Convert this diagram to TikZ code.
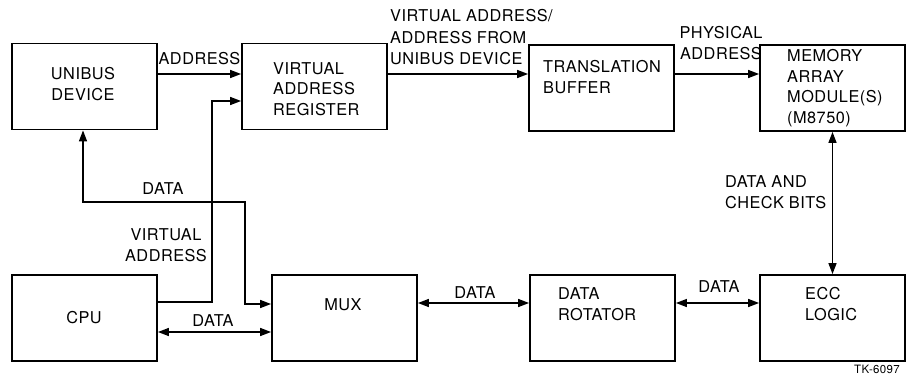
\documentclass[tikz,border=0pt]{standalone}
\usepackage{fontspec}
\setmainfont[LetterSpace=3]{TeX Gyre Heros}
\usepackage{tikz}
\usetikzlibrary{arrows.meta,positioning}
\tikzstyle{block} = [draw, line width=1.8pt, minimum width=145pt, minimum height=86pt, inner sep=0pt]
\tikzstyle{txt} = [inner sep=0pt, font=\fontsize{16.3}{20.5}\selectfont]
\tikzstyle{arrow} = [line width=1.4pt, -{Triangle[length=11pt,width=8pt]}]
\tikzstyle{biarrow} = [line width=1.4pt, {Triangle[length=11pt,width=8pt]}-{Triangle[length=11pt,width=8pt]}]

\begin{document}
\begin{tikzpicture}[x=1pt, y=-1pt]
            \useasboundingbox (0,0) rectangle (907,391);
            % blocks
            \node[block] (unibus) at (84.5,86.5) {};
            \node[block] (var) at (314.5,86.5) {};
            \node[block] (tb) at (601.5,88) {};
            \node[block] (mem) at (832.5,88) {};
            \node[block] (cpu) at (84.5,318) {};
            \node[block] (mux) at (344.5,318) {};
            \node[block] (rot) at (602.5,318) {};
            \node[block] (ecc) at (832.5,318) {};
            % block texts
            \node[txt, align=center] (unibustxt) at (83,84) {UNIBUS\\DEVICE};
            \node[txt, align=left, anchor=west] (vartxt) at (273,89) {VIRTUAL\\ADDRESS\\REGISTER};
            \node[txt, align=left, anchor=west] (tbtxt) at (543,77) {TRANSLATION\\BUFFER};
            \node[txt, align=left, anchor=west] (memtxt) at (787,88) {MEMORY\\ARRAY\\MODULE(S)\\(M8750)};
            \node[txt] (cputxt) at (84,318) {CPU};
            \node[txt] (muxtxt) at (343,305) {MUX};
            \node[txt, align=left, anchor=west] (rottxt) at (558,304) {DATA\\ROTATOR};
            \node[txt, align=left, anchor=west] (ecctxt) at (805,304) {ECC\\LOGIC};
            % connectors
            \draw[arrow] ([yshift=12.5pt]unibus.east) -- ([yshift=12.5pt]var.west)
                node[txt, midway, above=9pt] (addr) {ADDRESS};
            \draw[arrow] ([yshift=16pt]cpu.east) -- (212,302) -- (212,101) -- ([yshift=-14.5pt]var.west);
            \draw[biarrow] ([xshift=-1.5pt]unibus.south) |- (245,202) |- ([yshift=14pt]mux.west);
            \draw[biarrow] ([yshift=-14pt]cpu.east) -- ([yshift=-14pt]mux.west);
            \draw[biarrow] ([yshift=15pt]mux.east) -- ([yshift=15pt]rot.west);
            \draw[biarrow] ([yshift=15pt]rot.east) -- ([yshift=15pt]ecc.west);
            \draw[arrow] ([yshift=12.5pt]var.east) -- ([yshift=14pt]tb.west);
            \draw[arrow] ([yshift=14pt]tb.east) -- ([yshift=14pt]mem.west);
            \draw[biarrow] (mem.south) -- (ecc.north);
            % connector labels
            \node[txt, align=left, anchor=west, font=\fontsize{16.3}{21.5}\selectfont] (valbl) at (390,37.5) {VIRTUAL ADDRESS/\\ADDRESS FROM\\UNIBUS DEVICE};
            \node[txt, align=center] (palbl) at (721,43) {PHYSICAL\\ADDRESS};
            \node[txt] (datalbl1) at (163,189) {DATA};
            \node[txt, align=center] (vlbl) at (166,245) {VIRTUAL\\ADDRESS};
            \node[txt] (datalbl2) at (213,321) {DATA};
            \node[txt] (datalbl3) at (475,293) {DATA};
            \node[txt] (datalbl4) at (719,287) {DATA};
            \node[txt, align=left, anchor=west] (cblbl) at (725,192) {DATA AND\\CHECK BITS};
            \node[inner sep=0pt, font=\fontsize{11.5}{13}\selectfont] (tk) at (877,369) {TK-6097};
        \end{tikzpicture}
\end{document}
